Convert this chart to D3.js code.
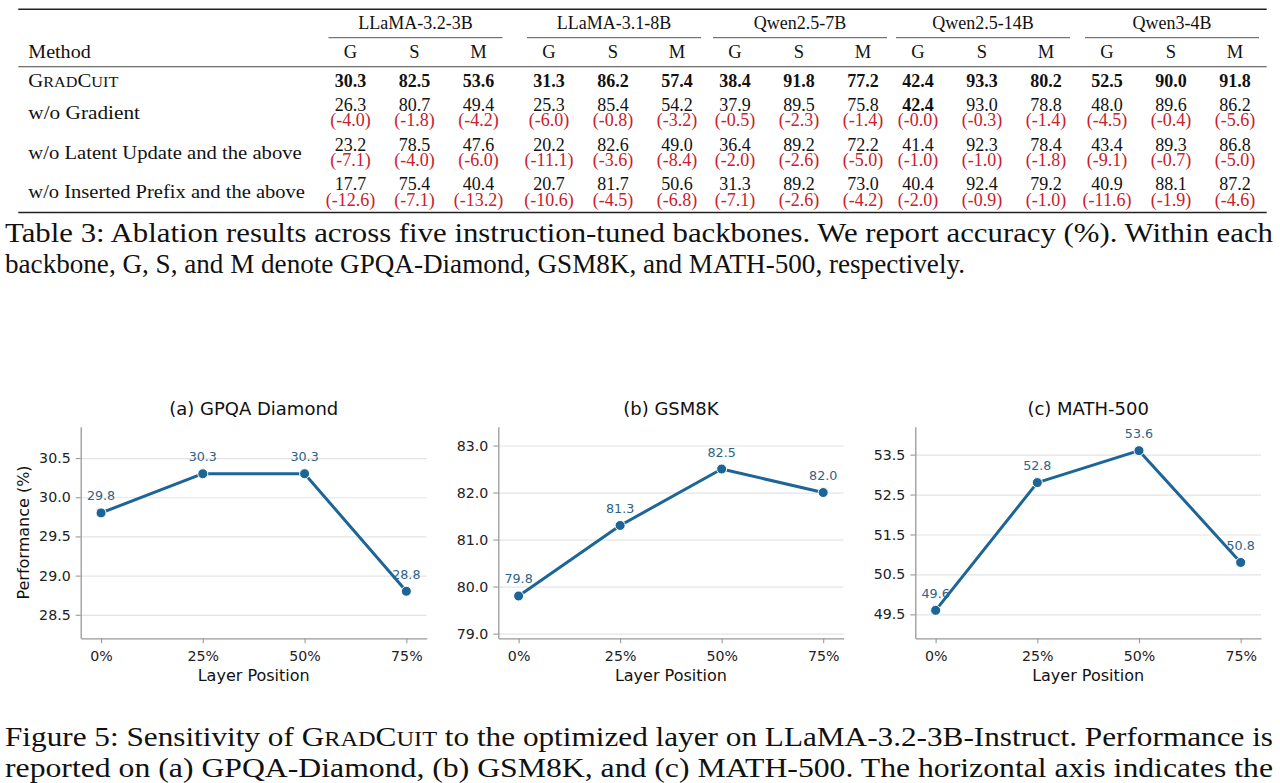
<!DOCTYPE html>
<html>
<head>
<meta charset="utf-8">
<script src="https://cdn.jsdelivr.net/npm/d3@7"></script>
<style>
  body { margin: 0; background: #fff; }
  svg { display: block; }
</style>
</head>
<body>
<svg id="fig" width="1280" height="783"></svg>
<script>
// Table 3 — ablation across five backbones (G = GPQA-Diamond, S = GSM8K, M = MATH-500)
const BACKBONES = ["LLaMA-3.2-3B", "LLaMA-3.1-8B", "Qwen2.5-7B", "Qwen2.5-14B", "Qwen3-4B"];
const METRICS = ["G", "S", "M"];
const METHODS = ["GradCuit", "w/o Gradient", "w/o Latent Update and the above", "w/o Inserted Prefix and the above"];

// one value per (backbone, metric), backbone-major order
const GRADCUIT_SCORES   = [30.3, 82.5, 53.6, 31.3, 86.2, 57.4, 38.4, 91.8, 77.2, 42.4, 93.3, 80.2, 52.5, 90.0, 91.8];
const WO_GRADIENT       = [26.3, 80.7, 49.4, 25.3, 85.4, 54.2, 37.9, 89.5, 75.8, 42.4, 93.0, 78.8, 48.0, 89.6, 86.2];
const WO_LATENT         = [23.2, 78.5, 47.6, 20.2, 82.6, 49.0, 36.4, 89.2, 72.2, 41.4, 92.3, 78.4, 43.4, 89.3, 86.8];
const WO_PREFIX         = [17.7, 75.4, 40.4, 20.7, 81.7, 50.6, 31.3, 89.2, 73.0, 40.4, 92.4, 79.2, 40.9, 88.1, 87.2];
// drops as printed in red under each value
const WO_GRADIENT_DROP  = ["-4.0", "-1.8", "-4.2", "-6.0", "-0.8", "-3.2", "-0.5", "-2.3", "-1.4", "-0.0", "-0.3", "-1.4", "-4.5", "-0.4", "-5.6"];
const WO_LATENT_DROP    = ["-7.1", "-4.0", "-6.0", "-11.1", "-3.6", "-8.4", "-2.0", "-2.6", "-5.0", "-1.0", "-1.0", "-1.8", "-9.1", "-0.7", "-5.0"];
const WO_PREFIX_DROP    = ["-12.6", "-7.1", "-13.2", "-10.6", "-4.5", "-6.8", "-7.1", "-2.6", "-4.2", "-2.0", "-0.9", "-1.0", "-11.6", "-1.9", "-4.6"];
// extra bold cell besides the full-method row: [row, column]
const BOLD_CELLS = [[1, 9]];

// Figure 5 — sensitivity to the optimized layer
const LAYER_POSITIONS = ["0%", "25%", "50%", "75%"];
const GPQA_SCORES  = [29.8, 30.3, 30.3, 28.8];
const GSM8K_SCORES = [79.8, 81.3, 82.5, 82.0];
const MATH_SCORES  = [49.6, 52.8, 53.6, 50.8];
const GPQA_TICKS  = [28.5, 29.0, 29.5, 30.0, 30.5];
const GSM8K_TICKS = [79.0, 80.0, 81.0, 82.0, 83.0];
const MATH_TICKS  = [49.5, 50.5, 51.5, 52.5, 53.5];

const TABLE_CAPTION = [
  "Table 3: Ablation results across five instruction-tuned backbones. We report accuracy (%). Within each",
  "backbone, G, S, and M denote GPQA-Diamond, GSM8K, and MATH-500, respectively.",
];
const FIGURE_CAPTION = [
  ["Figure 5: Sensitivity of ", "GradCuit", " to the optimized layer on LLaMA-3.2-3B-Instruct. Performance is"],
  ["reported on (a) GPQA-Diamond, (b) GSM8K, and (c) MATH-500. The horizontal axis indicates the"],
];

const SERIF = "'Liberation Serif', 'Times New Roman', serif";
const SANS = "'DejaVu Sans', Verdana, sans-serif";
const RED = "#c8202c";
const BLUE = "#1d6597";
const BLUE_TEXT = "#2d6386";

const svg = d3.select("#fig");

// Splits a CamelCase name into real caps + faked small caps (lowercase drawn smaller)
function appendSmallCaps(text, word) {
  word.split(/([A-Z]+)/).filter(Boolean).forEach((part) => {
    const lower = part === part.toLowerCase();
    text.append("tspan")
      .style("font-size", lower ? "0.78em" : null)
      .text(lower ? part.toUpperCase() : part);
  });
}

// ---------- table ----------
function drawTable() {
  const g = svg.append("g").attr("class", "table");
  const x0 = 18.3, x1 = 1266.7;

  const groupX = d3.scaleOrdinal().domain(BACKBONES).range([415.5, 614, 800, 983, 1172]);
  const metricX = d3.scalePoint().domain(METRICS).range([-65, 63]);
  const colX = (i) => groupX(BACKBONES[Math.floor(i / 3)]) + metricX(METRICS[i % 3]);

  // label baselines for each method row
  const rowY = d3.scaleOrdinal().domain(METHODS).range([87.3, 118.7, 158.5, 198.3]);

  const rule = (y, w, col) => g.append("line")
    .attr("x1", x0).attr("x2", x1).attr("y1", y).attr("y2", y)
    .attr("stroke", col).attr("stroke-width", w);
  rule(9.3, 1.6, "#222");
  rule(66.7, 1.1, "#444");
  rule(212.5, 1.6, "#222");

  // backbone names + cmidrules
  BACKBONES.forEach((b) => {
    g.append("text").attr("x", groupX(b)).attr("y", 29.3)
      .attr("text-anchor", "middle").style("font-family", SERIF).style("font-size", "18px")
      .style("fill", "#111").text(b);
    g.append("line")
      .attr("x1", groupX(b) - 87).attr("x2", groupX(b) + 87)
      .attr("y1", 37.7).attr("y2", 37.7)
      .attr("stroke", "#555").attr("stroke-width", 1);
    METRICS.forEach((m) => {
      g.append("text").attr("x", groupX(b) + metricX(m)).attr("y", 58.3)
        .attr("text-anchor", "middle").style("font-family", SERIF).style("font-size", "18.5px")
        .style("fill", "#111").text(m);
    });
  });

  g.append("text").attr("x", 28.3).attr("y", 58.3)
    .attr("textLength", 62.4).attr("lengthAdjust", "spacingAndGlyphs")
    .style("font-family", SERIF).style("font-size", "19.5px").style("fill", "#111").text("Method");

  const rows = [
    { values: GRADCUIT_SCORES, drops: null, width: 90 },
    { values: WO_GRADIENT, drops: WO_GRADIENT_DROP, width: 111.7 },
    { values: WO_LATENT, drops: WO_LATENT_DROP, width: 273.4 },
    { values: WO_PREFIX, drops: WO_PREFIX_DROP, width: 276.7 },
  ];

  rows.forEach((row, r) => {
    const method = METHODS[r];
    const y = rowY(method);
    const label = g.append("text").attr("x", 28.3).attr("y", y)
      .attr("textLength", row.width).attr("lengthAdjust", "spacingAndGlyphs")
      .style("font-family", SERIF).style("font-size", "19.5px").style("fill", "#111");
    if (r === 0) appendSmallCaps(label, method);
    else label.text(method);

    const valueY = row.drops ? y - 8 : y;
    row.values.forEach((v, i) => {
      const bold = r === 0 || BOLD_CELLS.some(([br, bc]) => br === r && bc === i);
      g.append("text").attr("x", colX(i)).attr("y", valueY)
        .attr("text-anchor", "middle").style("font-family", SERIF).style("font-size", "18px")
        .style("font-weight", bold ? "bold" : "normal").style("fill", "#111")
        .text(v.toFixed(1));
      if (row.drops) {
        g.append("text").attr("x", colX(i)).attr("y", y + 7.2)
          .attr("text-anchor", "middle").style("font-family", SERIF).style("font-size", "18px")
          .style("fill", RED).text(`(${row.drops[i]})`);
      }
    });
  });
}

// ---------- captions ----------
function drawCaptions() {
  const cap = (y, len) => svg.append("text").attr("x", 5).attr("y", y)
    .attr("textLength", len).attr("lengthAdjust", "spacingAndGlyphs")
    .style("font-family", SERIF).style("font-size", "26.5px").style("fill", "#111");

  cap(241.5, 1268).text(TABLE_CAPTION[0]);
  cap(272.5, 960).text(TABLE_CAPTION[1]);

  FIGURE_CAPTION.forEach((parts, li) => {
    const t = cap(li === 0 ? 745.5 : 776.5, 1268);
    parts.forEach((p) => {
      if (p === "GradCuit") appendSmallCaps(t, p);
      else t.append("tspan").text(p);
    });
  });
}

// ---------- line panels ----------
const PANELS = [
  { title: "(a) GPQA Diamond", values: GPQA_SCORES, ticks: GPQA_TICKS, domain: [28.2, 30.9], left: 80.7, right: 426.7, ylabel: "Performance (%)" },
  { title: "(b) GSM8K", values: GSM8K_SCORES, ticks: GSM8K_TICKS, domain: [78.9, 83.4], left: 498.3, right: 843.5 },
  { title: "(c) MATH-500", values: MATH_SCORES, ticks: MATH_TICKS, domain: [48.9, 54.2], left: 915.3, right: 1261 },
];
const PLOT_TOP = 426.7, PLOT_BOTTOM = 638.3;

function drawPanel(p) {
  const g = svg.append("g").attr("class", "panel");
  const W = p.right - p.left;

  const x = d3.scalePoint().domain(LAYER_POSITIONS).range([p.left, p.right]).padding(0.2);
  const y = d3.scaleLinear().domain(p.domain).range([PLOT_BOTTOM, PLOT_TOP]);

  // horizontal grid
  g.append("g").attr("transform", `translate(${p.left},0)`)
    .call(d3.axisLeft(y).tickValues(p.ticks).tickSize(-W).tickFormat(""))
    .call((gg) => gg.select(".domain").remove())
    .selectAll("line").attr("stroke", "#e4e4e4").attr("stroke-width", 1.2);

  const styleAxis = (gg) => {
    gg.select(".domain").attr("stroke", "#999").attr("stroke-width", 1.3);
    gg.selectAll(".tick line").attr("stroke", "#999").attr("stroke-width", 1.1);
    gg.selectAll("text").style("font-family", SANS).style("font-size", "14.2px").style("fill", "#222");
  };

  g.append("g").attr("transform", `translate(${p.left},0)`)
    .call(d3.axisLeft(y).tickValues(p.ticks).tickFormat(d3.format(".1f")).tickSize(5).tickSizeOuter(0).tickPadding(5))
    .call(styleAxis);
  g.append("g").attr("transform", `translate(0,${PLOT_BOTTOM})`)
    .call(d3.axisBottom(x).tickSize(5).tickSizeOuter(0).tickPadding(8))
    .call(styleAxis);

  const pts = p.values.map((v, i) => ({ pos: LAYER_POSITIONS[i], v }));

  g.append("path").datum(pts)
    .attr("fill", "none").attr("stroke", BLUE).attr("stroke-width", 3)
    .attr("stroke-linejoin", "round")
    .attr("d", d3.line().x((d) => x(d.pos)).y((d) => y(d.v)));

  g.selectAll(null).data(pts).enter().append("circle")
    .attr("cx", (d) => x(d.pos)).attr("cy", (d) => y(d.v)).attr("r", 5)
    .attr("fill", BLUE).attr("stroke", "#fff").attr("stroke-width", 1);

  g.selectAll(null).data(pts).enter().append("text")
    .attr("x", (d) => x(d.pos)).attr("y", (d) => y(d.v) - 12.5)
    .attr("text-anchor", "middle")
    .style("font-family", SANS).style("font-size", "12.7px").style("fill", BLUE_TEXT)
    .text((d) => d.v.toFixed(1));

  g.append("text").attr("x", (p.left + p.right) / 2).attr("y", 415)
    .attr("text-anchor", "middle").style("font-family", SANS).style("font-size", "18px")
    .style("fill", "#111").text(p.title);

  g.append("text").attr("x", (p.left + p.right) / 2).attr("y", 681)
    .attr("text-anchor", "middle").style("font-family", SANS).style("font-size", "16px")
    .style("fill", "#111").text("Layer Position");

  if (p.ylabel) {
    g.append("text").attr("transform", `translate(28.5,${(PLOT_TOP + PLOT_BOTTOM) / 2}) rotate(-90)`)
      .attr("text-anchor", "middle").style("font-family", SANS).style("font-size", "16px")
      .style("fill", "#111").text(p.ylabel);
  }
}

drawTable();
drawCaptions();
PANELS.forEach(drawPanel);
</script>
</body>
</html>
